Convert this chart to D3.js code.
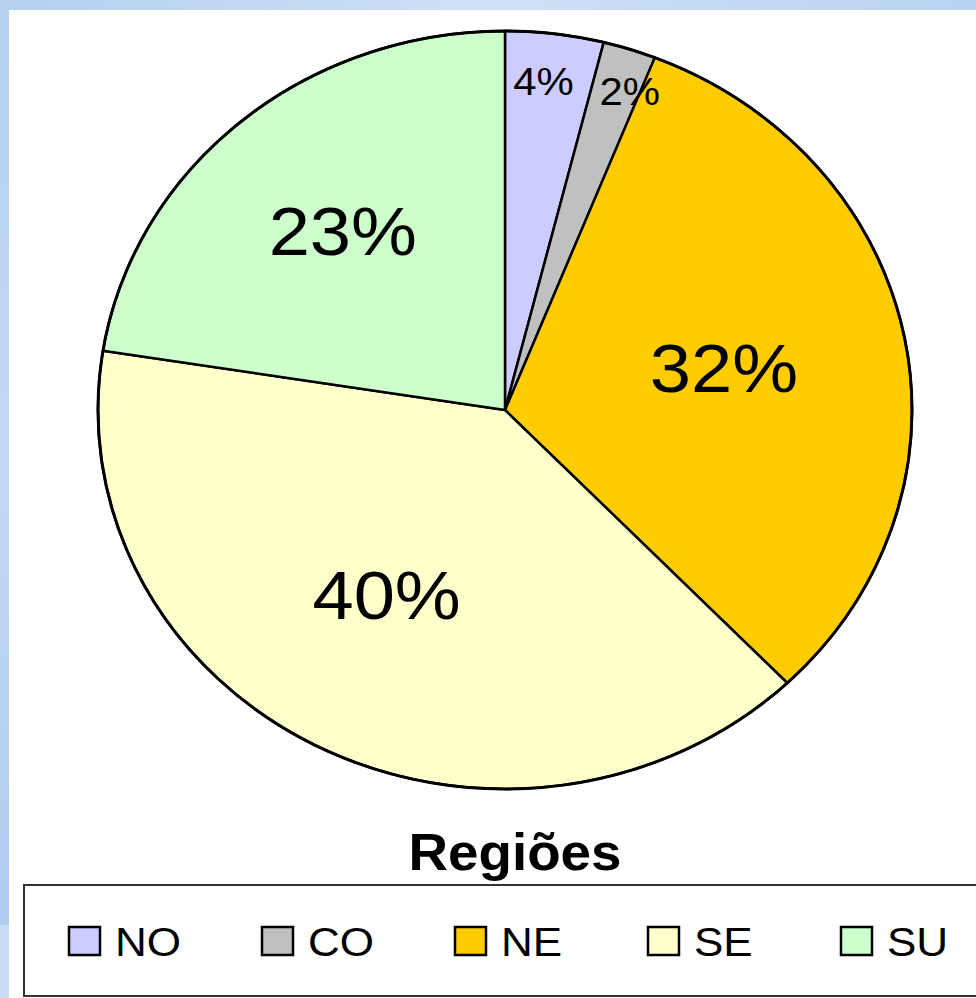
<!DOCTYPE html>
<html>
<head>
<meta charset="utf-8">
<script src="https://cdn.jsdelivr.net/npm/d3@7"></script>
<style>
  body { margin: 0; background: #fff; }
  svg { display: block; }
  text { font-family: "Liberation Sans", Arial, sans-serif; fill: #000; }
</style>
</head>
<body>
<script>
// share of each region (labels are rounded)
const regions = ['NO', 'CO', 'NE', 'SE', 'SU'];
const shares = [3.9, 2.1, 31.8, 39.7, 22.5];
const colors = ['#CCCCFF', '#C0C0C0', '#FFCC00', '#FFFFCC', '#CCFFCC'];
const title = 'Regiões';

// where the labels sit: fraction of the radius, and a nudge of the angle (deg)
const labelRadius = [0.873, 0.896, 0.55, 0.566, 0.62];
const labelNudge = [-0.8, 2.2, -0.8, 3.4, 0.5];

let width = 976, height = 998;
let cx = 505, cy = 410;
let ry = 379, stretch = 407 / 379;   // the original picture is a bit wide

let svg = d3.select('body').append('svg')
    .attr('width', width)
    .attr('height', height);

// light blue frame on top and left
let defs = svg.append('defs');
let gTop = defs.append('linearGradient').attr('id', 'topband');
gTop.append('stop').attr('offset', '0%').attr('stop-color', '#B4D0F1');
gTop.append('stop').attr('offset', '50%').attr('stop-color', '#CEE1F6');
gTop.append('stop').attr('offset', '100%').attr('stop-color', '#B9D3F2');
let gLeft = defs.append('linearGradient').attr('id', 'leftband')
    .attr('x1', 0).attr('y1', 0).attr('x2', 0).attr('y2', 1);
gLeft.append('stop').attr('offset', '0%').attr('stop-color', '#B5D0F1');
gLeft.append('stop').attr('offset', '50%').attr('stop-color', '#C3D9F4');
gLeft.append('stop').attr('offset', '100%').attr('stop-color', '#B0CCEF');

svg.append('rect').attr('width', width).attr('height', 10).attr('fill', 'url(#topband)');
svg.append('rect').attr('y', 0).attr('width', 9).attr('height', 925).attr('fill', 'url(#leftband)');
svg.append('rect').attr('y', 925).attr('width', 9).attr('height', height - 925).attr('fill', '#C8DCF5');

// pie, starting at 12 o'clock and going clockwise in data order
let pie = d3.pie().sort(null).value(d => d);
let arcs = pie(shares);

let arc = d3.arc().innerRadius(0).outerRadius(ry);

let pieG = svg.append('g')
    .attr('transform', 'translate(' + cx + ',' + cy + ') scale(' + stretch + ',1)');

pieG.selectAll('.slice')
    .data(arcs)
  .enter().append('path')
    .attr('class', 'slice')
    .attr('d', arc)
    .attr('fill', (d, i) => colors[i])
    .attr('stroke', '#000')
    .attr('stroke-width', 2.5)
    .attr('stroke-linejoin', 'round')
    .attr('vector-effect', 'non-scaling-stroke');

pieG.append('ellipse')
    .attr('rx', ry).attr('ry', ry)
    .attr('fill', 'none')
    .attr('stroke', '#000')
    .attr('stroke-width', 3)
    .attr('vector-effect', 'non-scaling-stroke');

// labels
function labelPos(d, i) {
  let a = (d.startAngle + d.endAngle) / 2 + labelNudge[i] * Math.PI / 180;
  let r = ry * labelRadius[i];
  return [cx + Math.sin(a) * r * stretch, cy - Math.cos(a) * r];
}

svg.selectAll('.label')
    .data(arcs)
  .enter().append('text')
    .attr('class', 'label')
    .attr('transform', (d, i) => {
      let p = labelPos(d, i);
      return 'translate(' + p[0] + ',' + p[1] + ') scale(' + stretch + ',1)';
    })
    .attr('text-anchor', 'middle')
    .attr('dy', '0.36em')
    .attr('font-size', d => d.value < 5 ? 39 : 69)
    .text(d => Math.round(d.value) + '%');

// title
svg.append('text')
    .attr('transform', 'translate(515,870) scale(' + stretch + ',1)')
    .attr('text-anchor', 'middle')
    .attr('font-size', 51)
    .attr('font-weight', 'bold')
    .text(title);

// legend
svg.append('rect')
    .attr('x', 24).attr('y', 885)
    .attr('width', 980).attr('height', 111)
    .attr('fill', '#fff')
    .attr('stroke', '#333')
    .attr('stroke-width', 2);

let legendX = d3.scaleBand()
    .domain(regions)
    .range([69, 69 + 5 * 193]);

let item = svg.selectAll('.legend')
    .data(regions)
  .enter().append('g')
    .attr('class', 'legend')
    .attr('transform', d => 'translate(' + legendX(d) + ',927)');

item.append('rect')
    .attr('width', 31).attr('height', 28)
    .attr('fill', (d, i) => colors[i])
    .attr('stroke', '#000')
    .attr('stroke-width', 2.5);

item.append('text')
    .attr('transform', 'translate(46,29) scale(' + stretch + ',1)')
    .attr('font-size', 41)
    .text(d => d);
</script>
</body>
</html>
